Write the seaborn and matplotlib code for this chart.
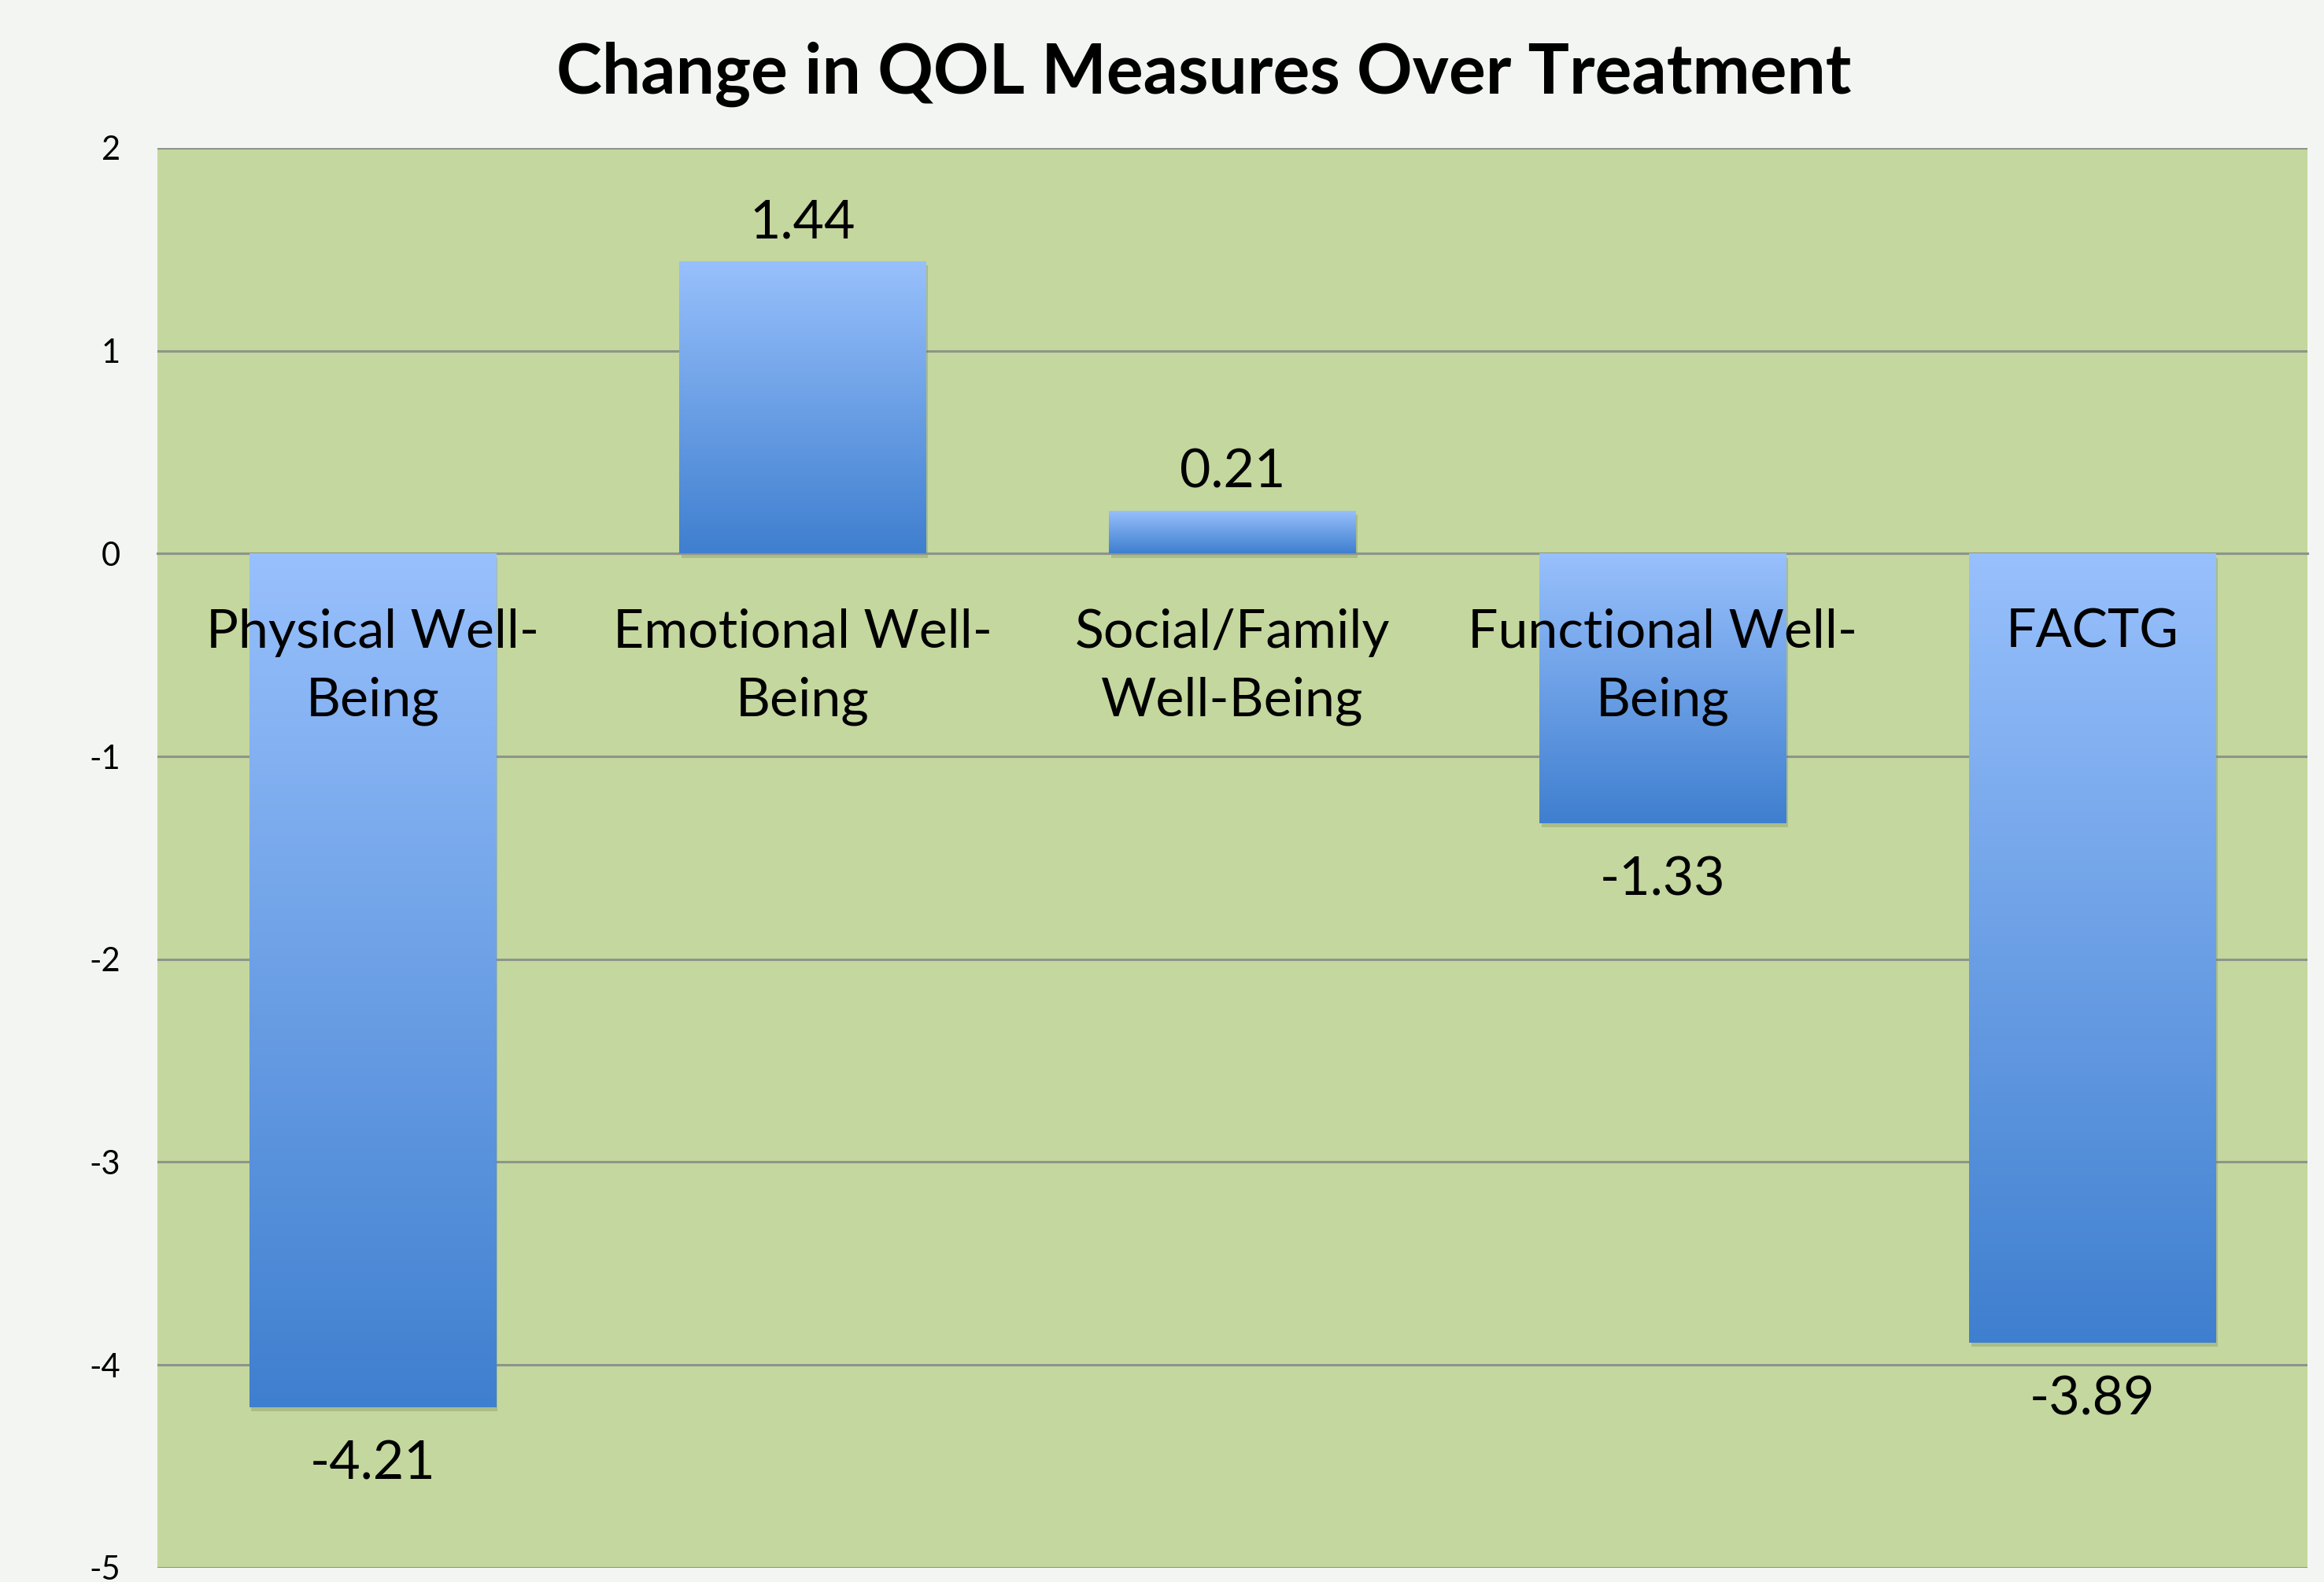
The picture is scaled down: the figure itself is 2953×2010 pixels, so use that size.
import numpy as np
import matplotlib
matplotlib.use("Agg")
import matplotlib.pyplot as plt
from matplotlib.colors import LinearSegmentedColormap
import seaborn as sns

categories = ["Physical Well-\nBeing", "Emotional Well-\nBeing", "Social/Family\nWell-Being",
              "Functional Well-\nBeing", "FACTG"]
changes = [-4.21, 1.44, 0.21, -1.33, -3.89]
value_labels = ["-4.21", "1.44", "0.21", "-1.33", "-3.89"]
y_ticks = [2, 1, 0, -1, -2, -3, -4, -5]

sns.set_theme(style="white")
plt.rcParams["font.family"] = ["Lato", "DejaVu Sans"]
plt.rcParams["text.color"] = "black"
plt.rcParams["xtick.color"] = "black"
plt.rcParams["ytick.color"] = "black"

fig = plt.figure(figsize=(29.53, 20.10), dpi=100, facecolor="#f3f5f2")
ax = fig.add_axes([0.0677, 0.009, 0.9252, 0.8975])
ax.set_facecolor("#c4d79e")

sns.barplot(x=categories, y=changes, color="#6a9de6", width=0.573, ax=ax, zorder=3)

ax.set_ylim(-5, 2)
ax.set_xlim(-0.5, 4.5)
ax.set_yticks(y_ticks)
ax.set_yticklabels([str(t) for t in y_ticks], fontsize=30)
ax.yaxis.grid(True, color="#8e948a", linewidth=2.2, zorder=1)
ax.set_axisbelow(True)
for s in ["left", "right", "top"]:
    ax.spines[s].set_visible(False)
ax.spines["bottom"].set_position(("data", 0))
ax.spines["bottom"].set_color("#8e948a")
ax.spines["bottom"].set_linewidth(2.2)
ax.tick_params(axis="y", length=0, pad=34)
ax.tick_params(axis="x", length=0, pad=50)
ax.xaxis.set_zorder(10)
for lbl in ax.get_xticklabels():
    lbl.set_fontsize(49)
    lbl.set_linespacing(1.5)
    lbl.set_multialignment("center")

# vertical gradient on each bar: light at top, darker at bottom
cmap = LinearSegmentedColormap.from_list("bar", ["#3f7fcf", "#98c0fc"])
grad = np.linspace(0, 1, 256).reshape(-1, 1)
for p in ax.patches:
    x0, y0 = p.get_x(), p.get_y()
    w, h = p.get_width(), p.get_height()
    ylo, yhi = min(y0, y0 + h), max(y0, y0 + h)
    shadow = plt.Rectangle((x0 + 0.005, ylo - 0.02), w, yhi - ylo, color="#6f7f55",
                           alpha=0.3, zorder=2, linewidth=0)
    ax.add_patch(shadow)
    im = ax.imshow(grad, cmap=cmap, origin="lower", aspect="auto",
                   extent=[x0, x0 + w, ylo, yhi], zorder=4)
    im.set_clip_path(p)
    p.set_edgecolor("none")

ax.set_xlim(-0.5, 4.5)
ax.set_ylim(-5, 2)

bars = ax.containers[0]
pos_labels = [t if v > 0 else "" for t, v in zip(value_labels, changes)]
neg_labels = [t if v < 0 else "" for t, v in zip(value_labels, changes)]
ax.bar_label(bars, labels=pos_labels, padding=13, fontsize=49, zorder=6)
ax.bar_label(bars, labels=neg_labels, padding=30, fontsize=49, zorder=6)

fig.suptitle("Change in QOL Measures Over Treatment", x=0.518, y=0.953, va="center",
             fontsize=63, fontweight="bold")

fig.savefig("out.png", dpi=100, facecolor=fig.get_facecolor())
